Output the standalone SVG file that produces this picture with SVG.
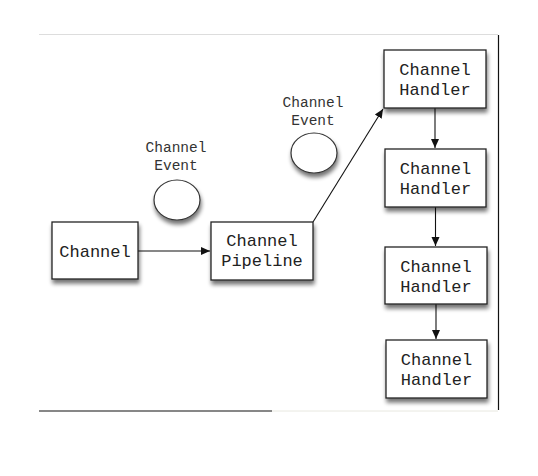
<svg xmlns="http://www.w3.org/2000/svg" width="538" height="476" viewBox="0 0 538 476">
<style>
.box{fill:#fff;stroke:#222;stroke-width:1.3}
.ev{fill:#fff;stroke:#333;stroke-width:1.2}
.t{font-family:"Liberation Mono","Courier New",monospace;font-size:17px;fill:#222;text-anchor:middle}
.lt{font-family:"Liberation Mono","Courier New",monospace;font-size:14.5px;fill:#333;text-anchor:middle}
.c{stroke:#111;stroke-width:1.1;fill:none;marker-end:url(#ah)}
</style>
<defs>
<filter id="sh" x="-20%" y="-20%" width="150%" height="160%">
<feGaussianBlur in="SourceAlpha" stdDeviation="2.2"/>
<feOffset dx="1" dy="4" result="b"/>
<feComponentTransfer><feFuncA type="linear" slope="0.55"/></feComponentTransfer>
<feMerge><feMergeNode/><feMergeNode in="SourceGraphic"/></feMerge>
</filter>
<marker id="ah" markerWidth="10" markerHeight="10" refX="9" refY="5" orient="auto" markerUnits="userSpaceOnUse">
<path d="M0,1 L9,5 L0,9 z" fill="#111"/>
</marker>
</defs>
<rect width="538" height="476" fill="#fff"/>
<g id="frame">
<line x1="39" y1="34.5" x2="498" y2="34.5" stroke="#ddd" stroke-width="1"/>
<line x1="498.5" y1="35" x2="498.5" y2="410" stroke="#111" stroke-width="1.2"/>
<line x1="39" y1="411" x2="272" y2="411" stroke="#111" stroke-width="1.2"/>
<line x1="272" y1="411" x2="498" y2="411" stroke="#e8e8e0" stroke-width="1"/>
</g>
<g id="connectors">
<line class="c" x1="138" y1="251" x2="210" y2="251"/>
<line class="c" x1="313" y1="222" x2="383" y2="109"/>
<line class="c" x1="435" y1="108" x2="435" y2="148"/>
<line class="c" x1="435.5" y1="207" x2="435.5" y2="246"/>
<line class="c" x1="436" y1="304" x2="436" y2="339"/>
</g>
<g id="event1">
<text class="lt" x="176" y="152">Channel</text>
<text class="lt" x="176" y="170">Event</text>
<ellipse class="ev" cx="177" cy="200" rx="23" ry="20" filter="url(#sh)"/>
</g>
<g id="event2">
<text class="lt" x="313" y="107">Channel</text>
<text class="lt" x="313" y="125">Event</text>
<ellipse class="ev" cx="314" cy="153" rx="23" ry="20" filter="url(#sh)"/>
</g>
<g id="channel">
<rect class="box" x="52" y="222" width="86" height="57" filter="url(#sh)"/>
<text class="t" x="95" y="257">Channel</text>
</g>
<g id="pipeline">
<rect class="box" x="211" y="222" width="102" height="58" filter="url(#sh)"/>
<text class="t" x="262" y="246">Channel</text>
<text class="t" x="262" y="266">Pipeline</text>
</g>
<g id="handler1">
<rect class="box" x="384" y="50" width="102" height="58" filter="url(#sh)"/>
<text class="t" x="435" y="75">Channel</text>
<text class="t" x="435" y="95">Handler</text>
</g>
<g id="handler2">
<rect class="box" x="385" y="149" width="101" height="58" filter="url(#sh)"/>
<text class="t" x="435.5" y="174">Channel</text>
<text class="t" x="435.5" y="194">Handler</text>
</g>
<g id="handler3">
<rect class="box" x="385" y="247" width="102" height="57" filter="url(#sh)"/>
<text class="t" x="436" y="272">Channel</text>
<text class="t" x="436" y="292">Handler</text>
</g>
<g id="handler4">
<rect class="box" x="386" y="340" width="101" height="58" filter="url(#sh)"/>
<text class="t" x="436.5" y="365">Channel</text>
<text class="t" x="436.5" y="385">Handler</text>
</g>
</svg>
